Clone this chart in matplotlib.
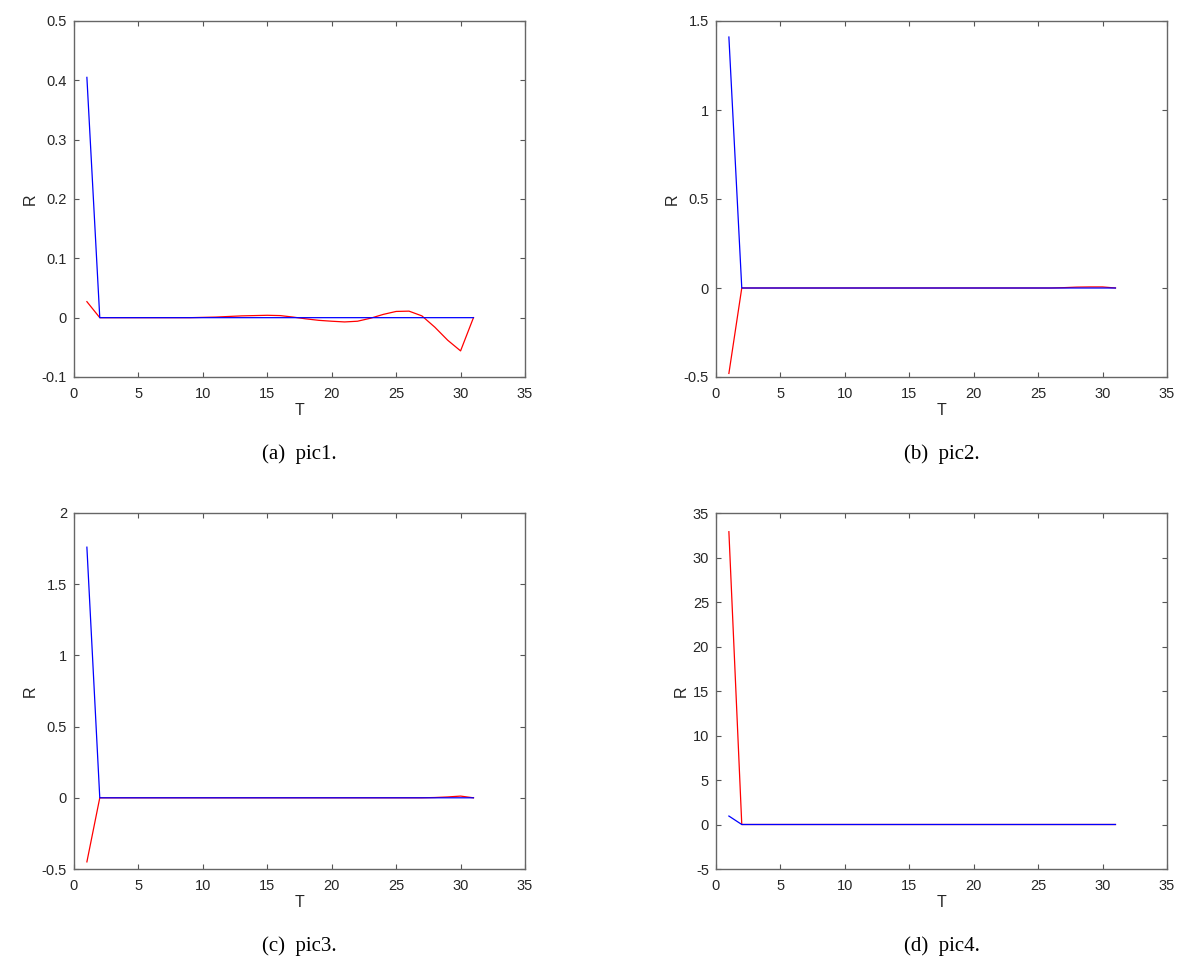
import numpy as np
import matplotlib.pyplot as plt
from matplotlib.ticker import FormatStrFormatter, MultipleLocator

plt.rcParams['axes.unicode_minus'] = False

T = list(range(1, 32))

red_a = [0.027, 0.0, 0.0, 0.0, 0.0, 0.0, 0.0, 0.0, 0.0, 0.0005,
         0.001, 0.002, 0.003, 0.0035, 0.004, 0.0035, 0.001, -0.002, -0.0045, -0.006,
         -0.0072, -0.006, -0.001, 0.0055, 0.0105, 0.011, 0.003, -0.016, -0.038, -0.056,
         0.0]
blue_a = [0.405] + [0.0] * 30

red_b = [-0.48] + [0.0] * 25 + [0.002, 0.005, 0.006, 0.006, 0.0]
blue_b = [1.41] + [0.0] * 30

red_c = [-0.45] + [0.0] * 26 + [0.002, 0.006, 0.012, 0.0]
blue_c = [1.76] + [0.0] * 30

red_d = [32.9] + [0.0] * 30
blue_d = [0.95] + [0.0] * 30

panels = [
    (red_a, blue_a, (-0.1, 0.5), 0.1, '(a)  pic1.'),
    (red_b, blue_b, (-0.5, 1.5), 0.5, '(b)  pic2.'),
    (red_c, blue_c, (-0.5, 2.0), 0.5, '(c)  pic3.'),
    (red_d, blue_d, (-5, 35), 5, '(d)  pic4.'),
]

# axes boxes in pixels: left, top
W, H = 1200, 971
boxes = [(74, 21), (716, 21), (74, 513), (716, 513)]
bw, bh = 451, 356

fig = plt.figure(figsize=(12, 9.71), dpi=100)

for (red, blue, ylim, step, caption), (lx, ty) in zip(panels, boxes):
    ax = fig.add_axes([lx / W, 1 - (ty + bh) / H, bw / W, bh / H])
    ax.plot(T, red, color='r', lw=0.9)
    ax.plot(T, blue, color='b', lw=0.9)
    ax.set_xlim(0, 35)
    ax.set_ylim(*ylim)
    ax.xaxis.set_major_locator(MultipleLocator(5))
    ax.yaxis.set_major_locator(MultipleLocator(step))
    ax.yaxis.set_major_formatter(FormatStrFormatter('%g'))
    ax.tick_params(direction='in', length=3.5, width=0.8, top=True, right=True,
                   labelsize=10.5, colors='#555555', labelcolor='#262626', pad=5)
    ax.tick_params(axis='x', pad=7.5)
    for s in ax.spines.values():
        s.set_color('#666666')
        s.set_linewidth(1.0)
    ax.set_xlabel('T', fontsize=11.5, color='#262626', labelpad=1)
    ax.set_ylabel('R', fontsize=11.5, color='#262626', labelpad=3)
    ax.text(0.5, -0.217, caption, transform=ax.transAxes, ha='center', va='center',
            fontsize=15, family='Liberation Serif')

for a in fig.axes:
    for lbl in a.get_xticklabels() + a.get_yticklabels():
        lbl.set_family('Liberation Sans')
    a.xaxis.label.set_family('Liberation Sans')
    a.yaxis.label.set_family('Liberation Sans')

fig.savefig('out.png', dpi=100)
